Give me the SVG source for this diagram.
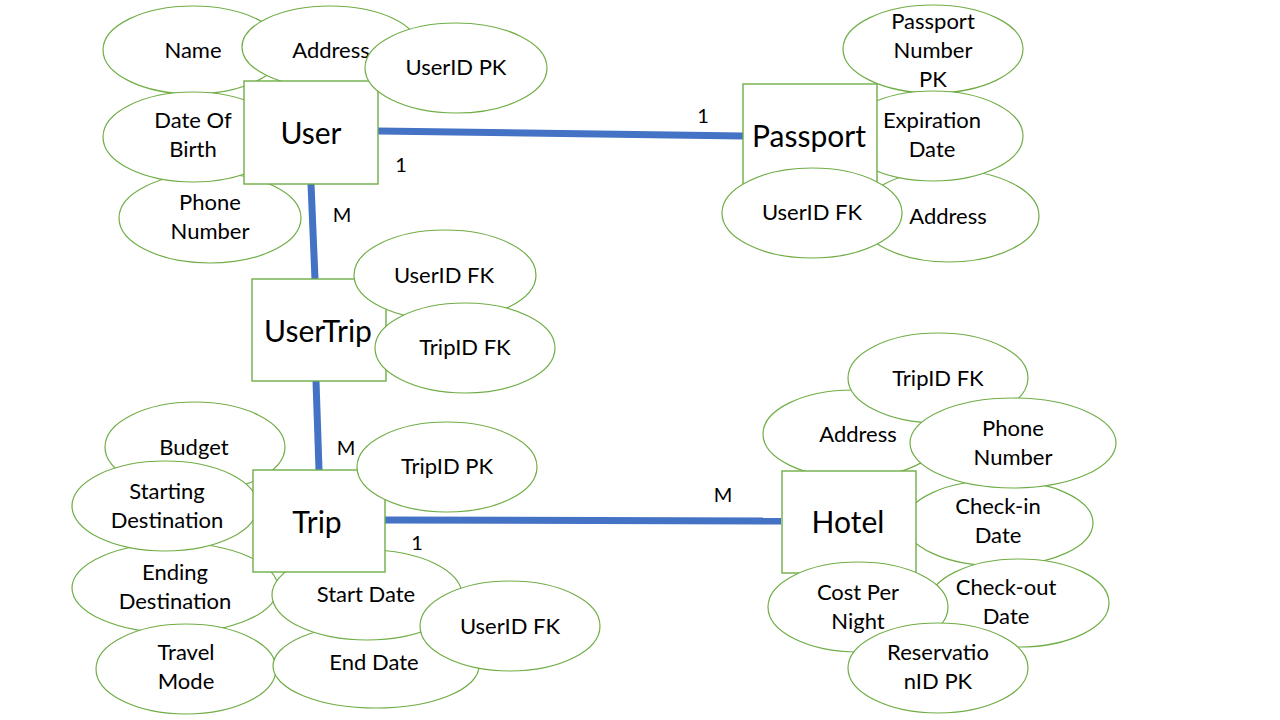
<svg xmlns="http://www.w3.org/2000/svg" width="1280" height="720" viewBox="0 0 1280 720">
<style>
.a{fill:#fff;stroke:#70AD47;stroke-width:1.2}
.e{fill:#fff;stroke:#70AD47;stroke-width:1.4}
.t{font-family:Lato,"Liberation Sans",sans-serif;font-size:22px;text-anchor:middle;fill:#000}
.n{font-family:Lato,"Liberation Sans",sans-serif;font-size:30px;text-anchor:middle;fill:#000}
.c{stroke:#4472C4;stroke-width:7;fill:none}
.l{font-family:Lato,"Liberation Sans",sans-serif;font-size:20px;text-anchor:middle;fill:#000}
</style>
<rect width="1280" height="720" fill="#fff"/>
<g id="connectors">
<line class="c" x1="378" y1="131" x2="743" y2="136"/>
<line class="c" x1="311" y1="184" x2="315" y2="279"/>
<line class="c" x1="316" y1="381" x2="319" y2="470"/>
<line class="c" x1="385" y1="520" x2="781" y2="521"/>
</g>
<g id="cardinality">
<text class="l" x="401" y="172">1</text>
<text class="l" x="703" y="123">1</text>
<text class="l" x="342" y="222">M</text>
<text class="l" x="346" y="455">M</text>
<text class="l" x="417" y="550">1</text>
<text class="l" x="723" y="502">M</text>
</g>
<!-- User -->
<g id="user-name"><ellipse class="a" cx="193" cy="50" rx="90" ry="44"/><text class="t" x="193" y="58">Name</text></g>
<g id="user-phone"><ellipse class="a" cx="210" cy="218" rx="91" ry="45"/><text class="t" x="210" y="210">Phone</text><text class="t" x="210" y="239">Number</text></g>
<g id="user-dob"><ellipse class="a" cx="193" cy="137" rx="90" ry="45"/><text class="t" x="193" y="128">Date Of</text><text class="t" x="193" y="157">Birth</text></g>
<g id="user-address"><ellipse class="a" cx="330" cy="47" rx="88" ry="41"/><text class="t" x="331" y="58">Address</text></g>
<g id="user"><rect class="e" x="244" y="81" width="134" height="103"/><text class="n" x="311" y="144">User</text></g>
<g id="user-userid"><ellipse class="a" cx="456" cy="68" rx="91" ry="45"/><text class="t" x="456" y="75">UserID PK</text></g>
<!-- Passport -->
<g id="passport-address"><ellipse class="a" cx="949" cy="216" rx="90" ry="46"/><text class="t" x="948" y="224">Address</text></g>
<g id="passport-number"><ellipse class="a" cx="933" cy="49" rx="90" ry="44"/><text class="t" x="933" y="29">Passport</text><text class="t" x="933" y="58">Number</text><text class="t" x="933" y="87">PK</text></g>
<g id="passport-expiration"><ellipse class="a" cx="933" cy="136" rx="90" ry="45"/><text class="t" x="932" y="128">Expiration</text><text class="t" x="932" y="157">Date</text></g>
<g id="passport"><rect class="e" x="743" y="84" width="134" height="103"/><text class="n" x="809" y="147">Passport</text></g>
<g id="passport-userid"><ellipse class="a" cx="812" cy="213" rx="90" ry="45"/><text class="t" x="812" y="220">UserID FK</text></g>
<!-- UserTrip -->
<g id="usertrip"><rect class="e" x="252" y="279" width="134" height="102"/><text class="n" x="318" y="342">UserTrip</text></g>
<g id="usertrip-userid"><ellipse class="a" cx="445" cy="275" rx="91" ry="45"/><text class="t" x="444" y="283">UserID FK</text></g>
<g id="usertrip-tripid"><ellipse class="a" cx="465" cy="348" rx="90" ry="45"/><text class="t" x="465" y="355">TripID FK</text></g>
<!-- Trip -->
<g id="trip-budget"><ellipse class="a" cx="195" cy="447" rx="90" ry="45"/><text class="t" x="194" y="455">Budget</text></g>
<g id="trip-ending"><ellipse class="a" cx="175" cy="588" rx="103" ry="45"/><text class="t" x="175" y="580">Ending</text><text class="t" x="175" y="609">Destination</text></g>
<g id="trip-starting"><ellipse class="a" cx="165" cy="506" rx="93" ry="45"/><text class="t" x="167" y="499">Starting</text><text class="t" x="167" y="528">Destination</text></g>
<g id="trip-travel"><ellipse class="a" cx="186" cy="669" rx="90" ry="45"/><text class="t" x="186" y="660">Travel</text><text class="t" x="186" y="689">Mode</text></g>
<g id="trip-enddate"><ellipse class="a" cx="376" cy="666" rx="103" ry="42"/><text class="t" x="374" y="670">End Date</text></g>
<g id="trip-startdate"><ellipse class="a" cx="367" cy="595" rx="95" ry="45"/><text class="t" x="366" y="602">Start Date</text></g>
<g id="trip"><rect class="e" x="253" y="470" width="132" height="102"/><text class="n" x="317" y="533">Trip</text></g>
<g id="trip-tripid"><ellipse class="a" cx="447" cy="467" rx="90" ry="45"/><text class="t" x="447" y="474">TripID PK</text></g>
<g id="trip-userid"><ellipse class="a" cx="510" cy="626" rx="90" ry="45"/><text class="t" x="510" y="634">UserID FK</text></g>
<!-- Hotel -->
<g id="hotel-address"><ellipse class="a" cx="853" cy="434" rx="90" ry="44"/><text class="t" x="858" y="442">Address</text></g>
<g id="hotel-tripid"><ellipse class="a" cx="938" cy="378" rx="90" ry="45"/><text class="t" x="938" y="386">TripID FK</text></g>
<g id="hotel-checkin"><ellipse class="a" cx="999" cy="523" rx="94" ry="43"/><text class="t" x="998" y="514">Check-in</text><text class="t" x="998" y="543">Date</text></g>
<g id="hotel-phone"><ellipse class="a" cx="1013" cy="443" rx="103" ry="45"/><text class="t" x="1013" y="436">Phone</text><text class="t" x="1013" y="465">Number</text></g>
<g id="hotel-checkout"><ellipse class="a" cx="1019" cy="603" rx="90" ry="44"/><text class="t" x="1006" y="595">Check-out</text><text class="t" x="1006" y="624">Date</text></g>
<g id="hotel"><rect class="e" x="782" y="471" width="134" height="102"/><text class="n" x="848" y="533">Hotel</text></g>
<g id="hotel-cost"><ellipse class="a" cx="858" cy="607" rx="90" ry="45"/><text class="t" x="858" y="600">Cost Per</text><text class="t" x="858" y="629">Night</text></g>
<g id="hotel-reservation"><ellipse class="a" cx="938" cy="668" rx="90" ry="45"/><text class="t" x="938" y="660">Reservatio</text><text class="t" x="938" y="689">nID PK</text></g>
</svg>
